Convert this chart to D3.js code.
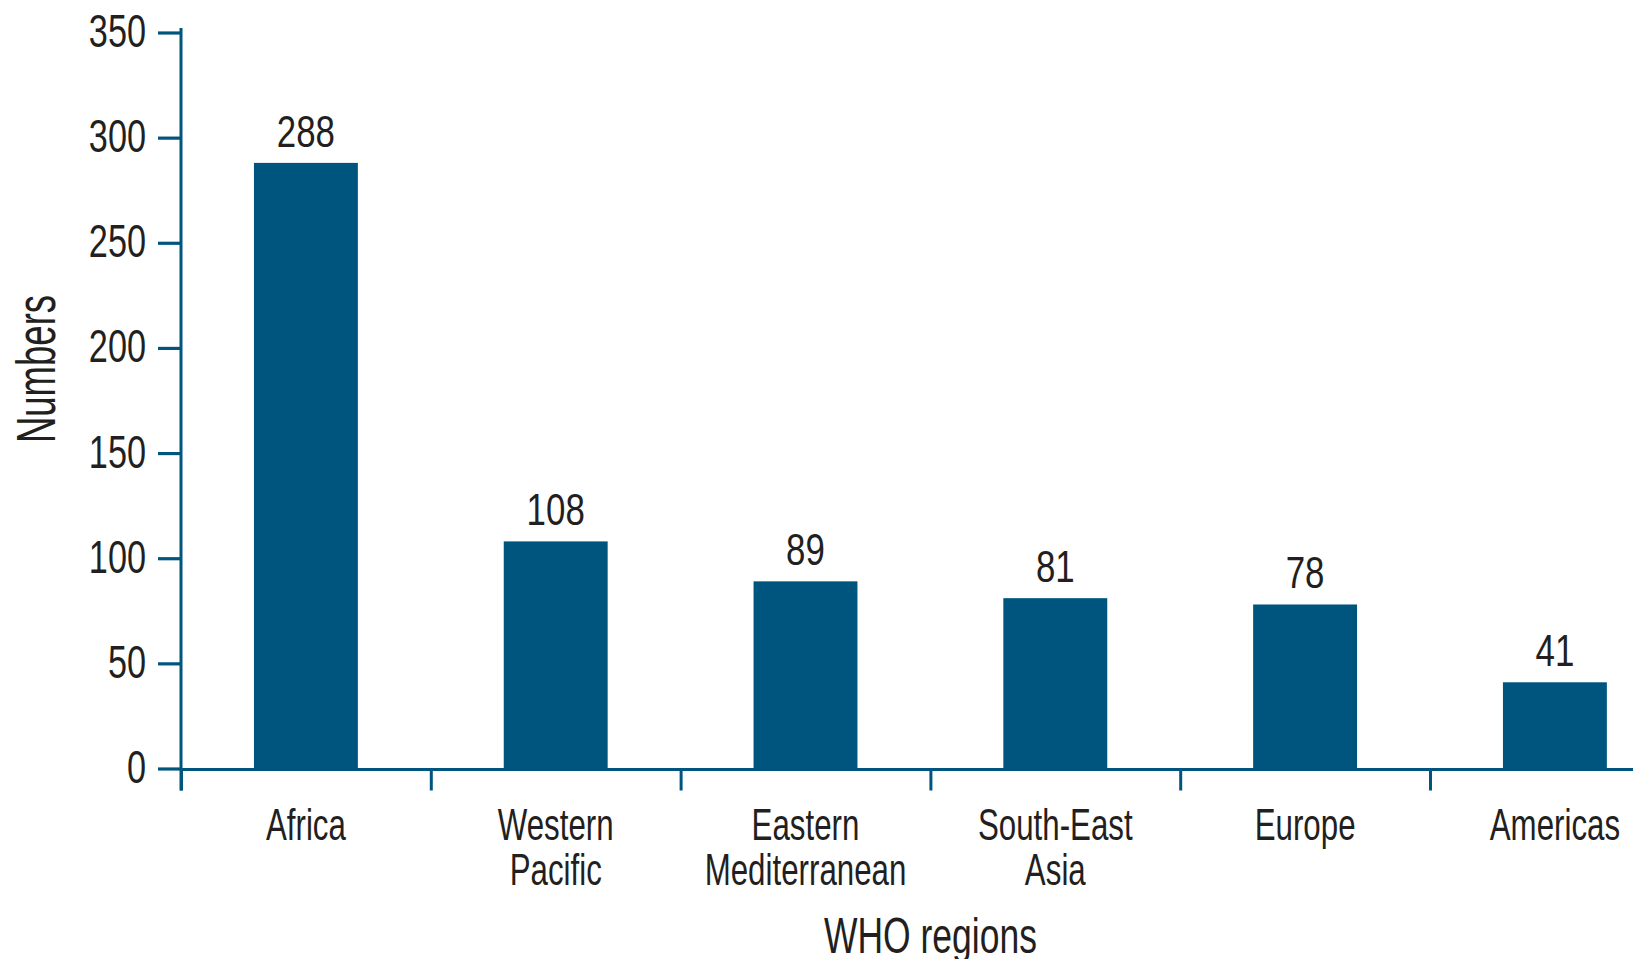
<!DOCTYPE html>
<html>
<head>
<meta charset="utf-8">
<script src="https://cdn.jsdelivr.net/npm/d3@7/dist/d3.min.js"></script>
<style>
  html, body { margin: 0; padding: 0; background: #ffffff; overflow: hidden; }
  svg { display: block; }
  text { font-family: "Liberation Sans", Arial, sans-serif; fill: #231f20; }
</style>
</head>
<body>
<svg id="chart" width="1633" height="959"></svg>
<script>
// ---- data ----
const regions = [["Africa"], ["Western", "Pacific"], ["Eastern", "Mediterranean"], ["South-East", "Asia"], ["Europe"], ["Americas"]];
const regionKeys = ["Africa", "Western Pacific", "Eastern Mediterranean", "South-East Asia", "Europe", "Americas"];
const values = [288, 108, 89, 81, 78, 41];
const yTicks = [0, 50, 100, 150, 200, 250, 300, 350];
const xTitle = "WHO regions";
const yTitle = "Numbers";

// ---- styles ----
const BLUE = "#00557f";
const svg = d3.select("#chart");

const x = d3.scaleBand()
  .domain(regionKeys)
  .range([181, 181 + 6 * 249.8])
  .paddingInner(0.584)
  .paddingOuter(0.292);

const y = d3.scaleLinear().domain([0, 350]).range([768.5, 32.5]);

const step = x.step();
const gap = step - x.bandwidth();
const base = y(0) + 1;

// bars
svg.append("g").selectAll("rect")
  .data(values)
  .join("rect")
  .attr("x", (d, i) => x(regionKeys[i]))
  .attr("y", d => y(d))
  .attr("width", x.bandwidth())
  .attr("height", d => base - y(d))
  .attr("fill", BLUE);

// y axis via d3
const yAxis = svg.append("g")
  .attr("transform", `translate(${x.range()[0]},0)`)
  .call(d3.axisLeft(y).tickValues(yTicks).tickSize(23).tickSizeOuter(0).tickPadding(12));
yAxis.select(".domain").remove();
yAxis.selectAll(".tick line").attr("stroke", BLUE).attr("stroke-width", 3.2);
yAxis.selectAll(".tick text")
  .attr("x", null).attr("dy", null)
  .attr("transform", "translate(-35,14) scale(0.745,1)")
  .attr("text-anchor", "end")
  .style("font-size", "46px")
  .style("fill", "#231f20");

// y axis line
svg.append("line")
  .attr("x1", x.range()[0]).attr("x2", x.range()[0])
  .attr("y1", y(350) - 4.5).attr("y2", base + 21)
  .attr("stroke", BLUE).attr("stroke-width", 3);

// x axis line
svg.append("line")
  .attr("x1", x.range()[0]).attr("x2", x.range()[1])
  .attr("y1", base).attr("y2", base)
  .attr("stroke", BLUE).attr("stroke-width", 3);

// x axis boundary ticks
svg.append("g").selectAll("line")
  .data(regionKeys)
  .join("line")
  .attr("x1", d => x(d) - gap / 2 + 0.5)
  .attr("x2", d => x(d) - gap / 2 + 0.5)
  .attr("y1", base).attr("y2", base + 21)
  .attr("stroke", BLUE).attr("stroke-width", 3);

// value labels
svg.append("g").selectAll("text")
  .data(values)
  .join("text")
  .attr("transform", (d, i) => `translate(${x(regionKeys[i]) + x.bandwidth() / 2},${y(d) - 16}) scale(0.78,1)`)
  .attr("text-anchor", "middle")
  .style("font-size", "44.7px")
  .text(d => d);

// category labels
const cat = svg.append("g").selectAll("g")
  .data(regions)
  .join("g")
  .attr("transform", (d, i) => `translate(${x(regionKeys[i]) + x.bandwidth() / 2},0)`);
cat.selectAll("text")
  .data(d => d)
  .join("text")
  .attr("transform", (d, j) => `translate(0,${840 + j * 45}) scale(0.7,1)`)
  .attr("text-anchor", "middle")
  .style("font-size", "44.7px")
  .text(d => d);

// axis titles
svg.append("text")
  .attr("transform", `translate(${(x.range()[0] + x.range()[1]) / 2},953) scale(0.71,1)`)
  .attr("text-anchor", "middle")
  .style("font-size", "50px")
  .text(xTitle);

svg.append("text")
  .attr("transform", `translate(55,369) rotate(-90) scale(0.652,1)`)
  .attr("text-anchor", "middle")
  .style("font-size", "56px")
  .text(yTitle);
</script>
</body>
</html>
